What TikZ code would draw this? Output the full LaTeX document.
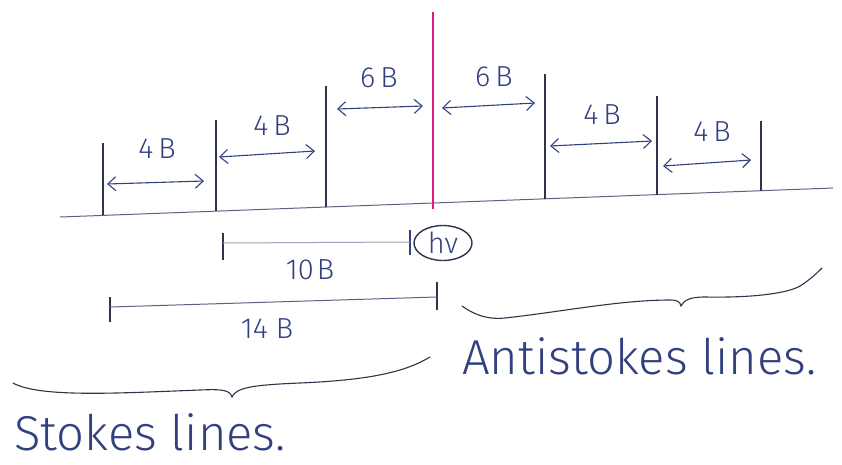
\documentclass[tikz,border=0pt]{standalone}
\usepackage{fontspec}
\setmainfont{Fira Sans Light}
\usetikzlibrary{arrows.meta,shapes.geometric}
\definecolor{ink}{HTML}{33407E}
\definecolor{pencil}{HTML}{30344A}
\definecolor{faint}{HTML}{5A6285}
\definecolor{mag}{HTML}{DC1A86}
\begin{document}
\begin{tikzpicture}[x=1pt,y=-1pt,
  tick/.style={pencil, line width=1.1pt},
  dim/.style={ink, line width=1.1pt,
    {Straight Barb[length=8pt,width=14pt]}-{Straight Barb[length=8pt,width=14pt]}},
  lbl/.style={ink, font=\fontsize{29}{32}\selectfont, inner sep=0pt},
  big/.style={ink, font=\fontsize{49}{52}\selectfont, inner sep=0pt},
  brace/.style={pencil, line width=1.1pt, line cap=round},
  bar/.style={faint, line width=1.0pt},
]
\useasboundingbox (0,0) rectangle (842,464);

% base line
\coordinate (b0) at (60,217);
\coordinate (b1) at (833,188);
\draw[faint, line width=1.0pt] (b0) -- (b1);

% spectral lines
\coordinate (s3t) at (103,143); \coordinate (s3b) at (103,215);
\coordinate (s2t) at (216,120); \coordinate (s2b) at (216,211);
\coordinate (s1t) at (326,86);  \coordinate (s1b) at (326,207);
\coordinate (a1t) at (545,74);  \coordinate (a1b) at (545,199);
\coordinate (a2t) at (657,96);  \coordinate (a2b) at (657,195);
\coordinate (a3t) at (761,121); \coordinate (a3b) at (761,191);
\foreach \p in {s3,s2,s1,a1,a2,a3}{\draw[tick] (\p t) -- (\p b);}
\coordinate (rt) at (433,12); \coordinate (rb) at (433,209);
\draw[mag, line width=2.8pt] (rt) -- (rb);

% spacing arrows
\coordinate (d1a) at (107,184); \coordinate (d1b) at (204,181);
\coordinate (d2a) at (219,157); \coordinate (d2b) at (315,151);
\coordinate (d3a) at (337,109); \coordinate (d3b) at (423,106);
\coordinate (d4a) at (442,108); \coordinate (d4b) at (535,103);
\coordinate (d5a) at (550,146); \coordinate (d5b) at (652,141);
\coordinate (d6a) at (663,166); \coordinate (d6b) at (751,160);
\foreach \i in {1,...,6}{\draw[dim] (d\i a) -- (d\i b);}

\node[lbl] (l1) at (157,149) {4\kern5ptB};
\node[lbl] (l2) at (272,126) {4\kern5ptB};
\node[lbl] (l3) at (379,78) {6\kern5ptB};
\node[lbl] (l4) at (494,77) {6\kern5ptB};
\node[lbl] (l5) at (602,115) {4\kern5ptB};
\node[lbl] (l6) at (712,132) {4\kern5ptB};

% h nu
\node[ink, draw=pencil, line width=1.4pt, ellipse, minimum width=58pt, minimum height=35pt,
      inner sep=0pt, font=\fontsize{29}{32}\selectfont] (hv) at (443,243) {hν};

% 10B bar
\coordinate (t1a) at (223,233); \coordinate (t1b) at (223,260);
\coordinate (t2a) at (410,230); \coordinate (t2b) at (410,255);
\draw[tick] (t1a) -- (t1b);
\draw[ink, line width=1.3pt] (t2a) -- (t2b);
\coordinate (m1) at (223,243); \coordinate (m2) at (410,242);
\draw[bar, faint!60] (m1) -- (m2);
\node[lbl] (ten) at (310,270) {10\kern3ptB};

% 14B bar
\coordinate (u1a) at (110,297); \coordinate (u1b) at (110,322);
\coordinate (u2a) at (437,282); \coordinate (u2b) at (437,310);
\draw[tick] (u1a) -- (u1b);
\draw[tick] (u2a) -- (u2b);
\coordinate (n1) at (110,307); \coordinate (n2) at (437,297);
\draw[bar] (n1) -- (n2);
\node[lbl] (fourteen) at (267,329) {14\kern8ptB};

% Stokes brace
\draw[brace] (13,383) .. controls (40,398) and (120,393) .. (200,390)
  .. controls (222,389) and (230,390) .. (232,397)
  .. controls (236,388) and (250,385) .. (300,383)
  .. controls (370,380) and (405,372) .. (430,357);
\node[big, anchor=west] (stokes) at (14,432) {Stokes lines.};

% Antistokes brace
\draw[brace] (462,306) .. controls (472,313) and (485,320) .. (505,318)
  .. controls (560,312) and (620,300) .. (670,300)
  .. controls (678,300) and (680,302) .. (681,306)
  .. controls (684,300) and (690,297) .. (705,297)
  .. controls (760,298) and (790,292) .. (800,286)
  .. controls (808,281) and (815,275) .. (822,268);
\node[big, anchor=west] (anti) at (462,356) {Antistokes lines.};
\end{tikzpicture}
\end{document}
